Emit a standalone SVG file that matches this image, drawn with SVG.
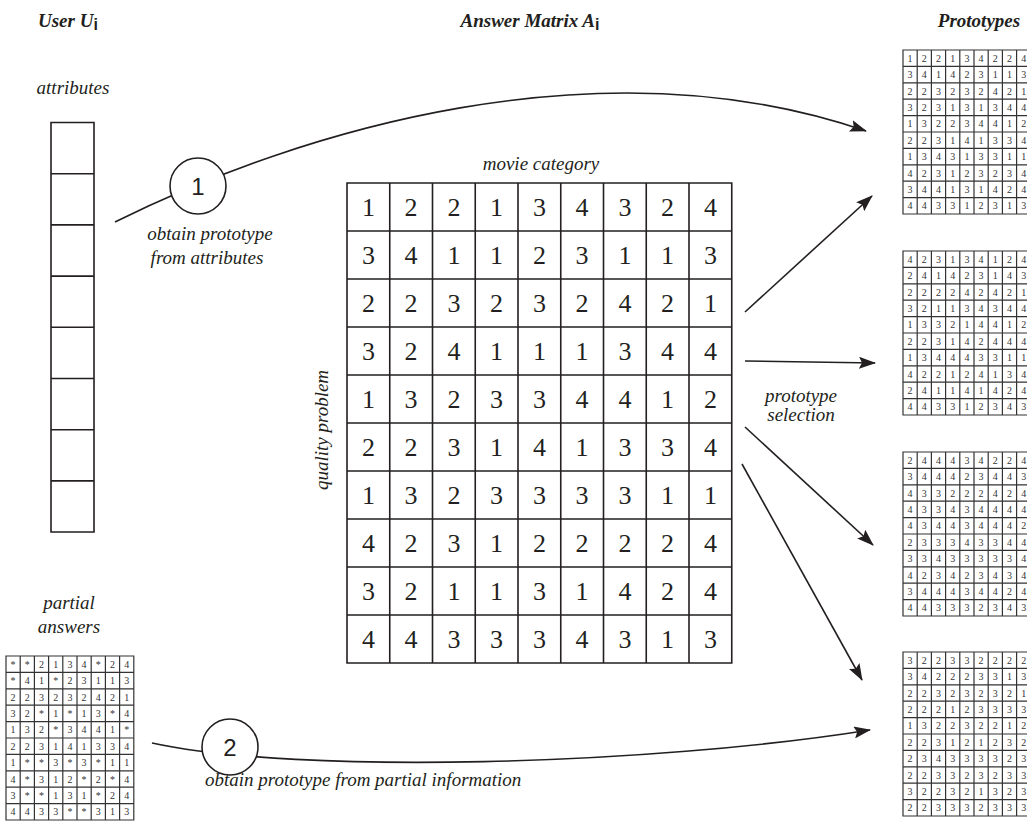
<svg xmlns="http://www.w3.org/2000/svg" xmlns:xlink="http://www.w3.org/1999/xlink" width="1027" height="821" viewBox="0 0 1027 821">
<style>
.hdr{font-family:Liberation Serif,Times New Roman,serif;font-weight:bold;font-style:italic;font-size:19px;fill:#231f20}
.sub{font-family:Liberation Sans,Arial,sans-serif;font-weight:bold;font-style:normal;font-size:16px}
.lbl{font-family:Liberation Serif,Times New Roman,serif;font-style:italic;font-size:19px;fill:#231f20}
.big{font-size:26px;fill:#231f20;text-anchor:middle}
.sm{font-size:10px;fill:#333;text-anchor:middle}
.num{font-family:Liberation Sans,Arial,sans-serif;font-size:24px;fill:#231f20;text-anchor:middle}
.grid{fill:none;stroke:#231f20;stroke-width:1.6}
.sgrid{fill:none;stroke:#333;stroke-width:1.2}
.conn{fill:none;stroke:#231f20;stroke-width:1.6}
.circ{fill:#fff;stroke:#231f20;stroke-width:1.6}
</style>
<defs>
<marker id="ah" markerUnits="userSpaceOnUse" markerWidth="17" markerHeight="12" viewBox="0 0 17 12" refX="16" refY="6" orient="auto">
<path d="M0,0 L17,6 L0,12 L3,6 Z" fill="#231f20"/>
</marker>
<path id="smallgrid" class="sgrid" d="M0,0H127.8V164H0Z M14.2,0V164 M28.4,0V164 M42.6,0V164 M56.8,0V164 M71,0V164 M85.2,0V164 M99.4,0V164 M113.6,0V164 M0,16.4H127.8 M0,32.8H127.8 M0,49.2H127.8 M0,65.6H127.8 M0,82H127.8 M0,98.4H127.8 M0,114.8H127.8 M0,131.2H127.8 M0,147.6H127.8"/>
</defs>
<rect width="1027" height="821" fill="#fff"/>

<g id="headers">
<text class="hdr" x="38" y="27">User U<tspan class="sub" dy="3">i</tspan></text>
<text class="hdr" x="530" y="27" text-anchor="middle">Answer Matrix A<tspan class="sub" dy="3">i</tspan></text>
<text class="hdr" x="979" y="27" text-anchor="middle">Prototypes</text>
</g>

<g id="connectors">
<path class="conn" d="M115,222 C300,130 600,40 866,131" marker-end="url(#ah)"/>
<path class="conn" d="M152,743 C300,775 650,765 870,730" marker-end="url(#ah)"/>
<line class="conn" x1="745" y1="312" x2="872" y2="196" marker-end="url(#ah)"/>
<line class="conn" x1="745" y1="361" x2="875" y2="363" marker-end="url(#ah)"/>
<line class="conn" x1="745" y1="427" x2="873" y2="545" marker-end="url(#ah)"/>
<line class="conn" x1="742" y1="464" x2="862" y2="680" marker-end="url(#ah)"/>
</g>

<g id="user-attributes">
<text class="lbl" x="73" y="94" text-anchor="middle">attributes</text>
<path class="grid" d="M51,122.5H94V532H51Z M51,173.7H94 M51,224.9H94 M51,276.1H94 M51,327.3H94 M51,378.5H94 M51,429.7H94 M51,480.9H94"/>
</g>

<g id="step1">
<circle class="circ" cx="198" cy="186" r="28"/>
<text class="num" x="198" y="195">1</text>
<text class="lbl" x="210" y="240" text-anchor="middle">obtain prototype</text>
<text class="lbl" x="207" y="264" text-anchor="middle">from attributes</text>
</g>

<g id="step2">
<circle class="circ" cx="230" cy="747" r="28"/>
<text class="num" x="230" y="756">2</text>
<text class="lbl" x="205" y="786">obtain prototype from partial information</text>
</g>

<g id="selection-label">
<text class="lbl" x="801" y="402" text-anchor="middle">prototype</text>
<text class="lbl" x="801" y="421" text-anchor="middle">selection</text>
</g>

<g id="answer-matrix">
<text class="lbl" x="541" y="170" text-anchor="middle">movie category</text>
<text class="lbl" transform="translate(328,430) rotate(-90)" text-anchor="middle">quality problem</text>
<path class="grid" d="M347,183H731.75V663H347Z M389.75,183V663 M432.5,183V663 M475.25,183V663 M518,183V663 M560.75,183V663 M603.5,183V663 M646.25,183V663 M689,183V663 M347,231H731.75 M347,279H731.75 M347,327H731.75 M347,375H731.75 M347,423H731.75 M347,471H731.75 M347,519H731.75 M347,567H731.75 M347,615H731.75"/>
<g class="big" font-family="Liberation Serif, serif">
<text x="368.4 411.1 453.9 496.6 539.4 582.1 624.9 667.6 710.4" y="216">122134324</text>
<text x="368.4 411.1 453.9 496.6 539.4 582.1 624.9 667.6 710.4" y="264">341123113</text>
<text x="368.4 411.1 453.9 496.6 539.4 582.1 624.9 667.6 710.4" y="312">223232421</text>
<text x="368.4 411.1 453.9 496.6 539.4 582.1 624.9 667.6 710.4" y="360">324111344</text>
<text x="368.4 411.1 453.9 496.6 539.4 582.1 624.9 667.6 710.4" y="408">132334412</text>
<text x="368.4 411.1 453.9 496.6 539.4 582.1 624.9 667.6 710.4" y="456">223141334</text>
<text x="368.4 411.1 453.9 496.6 539.4 582.1 624.9 667.6 710.4" y="504">132333311</text>
<text x="368.4 411.1 453.9 496.6 539.4 582.1 624.9 667.6 710.4" y="552">423122224</text>
<text x="368.4 411.1 453.9 496.6 539.4 582.1 624.9 667.6 710.4" y="600">321131424</text>
<text x="368.4 411.1 453.9 496.6 539.4 582.1 624.9 667.6 710.4" y="648">443334313</text>
</g>
</g>

<g id="partial-answers">
<text class="lbl" x="69" y="609" text-anchor="middle">partial</text>
<text class="lbl" x="69" y="633" text-anchor="middle">answers</text>
<g transform="translate(6,656)">
<use xlink:href="#smallgrid"/>
<g class="sm" font-family="Liberation Serif, serif">
<text x="7.1 21.3 35.5 49.7 63.9 78.1 92.3 106.5 120.7" y="11.7">**2134*24</text>
<text x="7.1 21.3 35.5 49.7 63.9 78.1 92.3 106.5 120.7" y="28.1">*41*23113</text>
<text x="7.1 21.3 35.5 49.7 63.9 78.1 92.3 106.5 120.7" y="44.5">223232421</text>
<text x="7.1 21.3 35.5 49.7 63.9 78.1 92.3 106.5 120.7" y="60.9">32*1*13*4</text>
<text x="7.1 21.3 35.5 49.7 63.9 78.1 92.3 106.5 120.7" y="77.3">132*3441*</text>
<text x="7.1 21.3 35.5 49.7 63.9 78.1 92.3 106.5 120.7" y="93.7">223141334</text>
<text x="7.1 21.3 35.5 49.7 63.9 78.1 92.3 106.5 120.7" y="110.1">1**3*3*11</text>
<text x="7.1 21.3 35.5 49.7 63.9 78.1 92.3 106.5 120.7" y="126.5">4*312*2*4</text>
<text x="7.1 21.3 35.5 49.7 63.9 78.1 92.3 106.5 120.7" y="142.9">3**131*24</text>
<text x="7.1 21.3 35.5 49.7 63.9 78.1 92.3 106.5 120.7" y="159.3">4433**313</text>
</g>
</g>
</g>

<g id="prototype-1" transform="translate(903,50)">
<use xlink:href="#smallgrid"/>
<g class="sm" font-family="Liberation Serif, serif">
<text x="7.1 21.3 35.5 49.7 63.9 78.1 92.3 106.5 120.7" y="11.7">122134224</text>
<text x="7.1 21.3 35.5 49.7 63.9 78.1 92.3 106.5 120.7" y="28.1">341423113</text>
<text x="7.1 21.3 35.5 49.7 63.9 78.1 92.3 106.5 120.7" y="44.5">223232421</text>
<text x="7.1 21.3 35.5 49.7 63.9 78.1 92.3 106.5 120.7" y="60.9">323131344</text>
<text x="7.1 21.3 35.5 49.7 63.9 78.1 92.3 106.5 120.7" y="77.3">132234412</text>
<text x="7.1 21.3 35.5 49.7 63.9 78.1 92.3 106.5 120.7" y="93.7">223141334</text>
<text x="7.1 21.3 35.5 49.7 63.9 78.1 92.3 106.5 120.7" y="110.1">134313311</text>
<text x="7.1 21.3 35.5 49.7 63.9 78.1 92.3 106.5 120.7" y="126.5">423123234</text>
<text x="7.1 21.3 35.5 49.7 63.9 78.1 92.3 106.5 120.7" y="142.9">344131424</text>
<text x="7.1 21.3 35.5 49.7 63.9 78.1 92.3 106.5 120.7" y="159.3">443312313</text>
</g>
</g>

<g id="prototype-2" transform="translate(903,251)">
<use xlink:href="#smallgrid"/>
<g class="sm" font-family="Liberation Serif, serif">
<text x="7.1 21.3 35.5 49.7 63.9 78.1 92.3 106.5 120.7" y="11.7">423134124</text>
<text x="7.1 21.3 35.5 49.7 63.9 78.1 92.3 106.5 120.7" y="28.1">241423143</text>
<text x="7.1 21.3 35.5 49.7 63.9 78.1 92.3 106.5 120.7" y="44.5">222242421</text>
<text x="7.1 21.3 35.5 49.7 63.9 78.1 92.3 106.5 120.7" y="60.9">321134344</text>
<text x="7.1 21.3 35.5 49.7 63.9 78.1 92.3 106.5 120.7" y="77.3">133214412</text>
<text x="7.1 21.3 35.5 49.7 63.9 78.1 92.3 106.5 120.7" y="93.7">223142444</text>
<text x="7.1 21.3 35.5 49.7 63.9 78.1 92.3 106.5 120.7" y="110.1">134443311</text>
<text x="7.1 21.3 35.5 49.7 63.9 78.1 92.3 106.5 120.7" y="126.5">422124134</text>
<text x="7.1 21.3 35.5 49.7 63.9 78.1 92.3 106.5 120.7" y="142.9">241141424</text>
<text x="7.1 21.3 35.5 49.7 63.9 78.1 92.3 106.5 120.7" y="159.3">443312343</text>
</g>
</g>

<g id="prototype-3" transform="translate(903,452)">
<use xlink:href="#smallgrid"/>
<g class="sm" font-family="Liberation Serif, serif">
<text x="7.1 21.3 35.5 49.7 63.9 78.1 92.3 106.5 120.7" y="11.7">244434224</text>
<text x="7.1 21.3 35.5 49.7 63.9 78.1 92.3 106.5 120.7" y="28.1">344423443</text>
<text x="7.1 21.3 35.5 49.7 63.9 78.1 92.3 106.5 120.7" y="44.5">433222424</text>
<text x="7.1 21.3 35.5 49.7 63.9 78.1 92.3 106.5 120.7" y="60.9">433434444</text>
<text x="7.1 21.3 35.5 49.7 63.9 78.1 92.3 106.5 120.7" y="77.3">434434442</text>
<text x="7.1 21.3 35.5 49.7 63.9 78.1 92.3 106.5 120.7" y="93.7">233343344</text>
<text x="7.1 21.3 35.5 49.7 63.9 78.1 92.3 106.5 120.7" y="110.1">334333334</text>
<text x="7.1 21.3 35.5 49.7 63.9 78.1 92.3 106.5 120.7" y="126.5">423423434</text>
<text x="7.1 21.3 35.5 49.7 63.9 78.1 92.3 106.5 120.7" y="142.9">344434424</text>
<text x="7.1 21.3 35.5 49.7 63.9 78.1 92.3 106.5 120.7" y="159.3">443332343</text>
</g>
</g>

<g id="prototype-4" transform="translate(903,652)">
<use xlink:href="#smallgrid"/>
<g class="sm" font-family="Liberation Serif, serif">
<text x="7.1 21.3 35.5 49.7 63.9 78.1 92.3 106.5 120.7" y="11.7">322332222</text>
<text x="7.1 21.3 35.5 49.7 63.9 78.1 92.3 106.5 120.7" y="28.1">342223313</text>
<text x="7.1 21.3 35.5 49.7 63.9 78.1 92.3 106.5 120.7" y="44.5">223232321</text>
<text x="7.1 21.3 35.5 49.7 63.9 78.1 92.3 106.5 120.7" y="60.9">222123333</text>
<text x="7.1 21.3 35.5 49.7 63.9 78.1 92.3 106.5 120.7" y="77.3">132232212</text>
<text x="7.1 21.3 35.5 49.7 63.9 78.1 92.3 106.5 120.7" y="93.7">223121232</text>
<text x="7.1 21.3 35.5 49.7 63.9 78.1 92.3 106.5 120.7" y="110.1">234333323</text>
<text x="7.1 21.3 35.5 49.7 63.9 78.1 92.3 106.5 120.7" y="126.5">223323233</text>
<text x="7.1 21.3 35.5 49.7 63.9 78.1 92.3 106.5 120.7" y="142.9">322321323</text>
<text x="7.1 21.3 35.5 49.7 63.9 78.1 92.3 106.5 120.7" y="159.3">223332333</text>
</g>
</g>
</svg>
